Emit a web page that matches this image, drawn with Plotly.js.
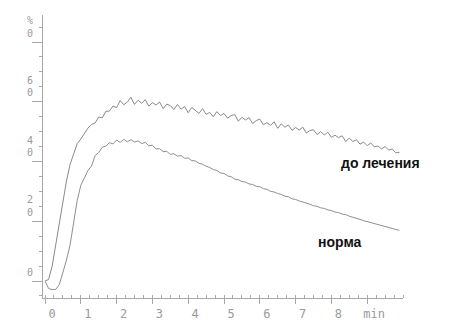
<!DOCTYPE html>
<html>
<head>
<meta charset="utf-8">
<script src="https://cdn.plot.ly/plotly-3.0.1.min.js"></script>
<style>html,body{margin:0;padding:0;background:#fff}#chart{width:475px;height:324px}</style>
</head>
<body>
<div id="chart"></div>
<script>
// time, min (step 0.1)
const timeMin = [0.0,0.1,0.2,0.3,0.4,0.5,0.6,0.7,0.8,0.9,1.0,1.1,1.2,1.3,1.4,1.5,1.6,1.7,1.8,1.9,2.0,2.1,2.2,2.3,2.4,2.5,2.6,2.7,2.8,2.9,3.0,3.1,3.2,3.3,3.4,3.5,3.6,3.7,3.8,3.9,4.0,4.1,4.2,4.3,4.4,4.5,4.6,4.7,4.8,4.9,5.0,5.1,5.2,5.3,5.4,5.5,5.6,5.7,5.8,5.9,6.0,6.1,6.2,6.3,6.4,6.5,6.6,6.7,6.8,6.9,7.0,7.1,7.2,7.3,7.4,7.5,7.6,7.7,7.8,7.9,8.0,8.1,8.2,8.3,8.4,8.5,8.6,8.7,8.8,8.9,9.0,9.1,9.2,9.3,9.4,9.5,9.6,9.7,9.8,9.9];
// "до лечения" (%)
const beforeTreatment = [0,0.5,5,12,20,27,33.5,39,42.5,46,47.5,49.6,51.2,52.4,52.9,54.9,54.6,56.8,56.9,58.6,58.0,60.4,59.0,59.9,61.5,59.1,60.5,59.5,60.7,58.5,59.7,58.9,59.9,57.7,59.2,58.7,57.4,59.1,57.5,58.4,56.3,58.1,57.1,56.1,57.7,55.8,56.4,55.0,56.7,55.4,56.1,54.5,55.4,55.7,53.5,54.8,53.9,54.7,52.7,53.7,54.2,52.3,53.0,52.1,53.3,51.1,52.6,51.5,52.2,50.4,51.4,50.5,51.5,49.5,50.4,50.6,49.0,50.0,48.9,49.8,48.1,48.8,48.0,48.6,46.7,47.8,46.7,47.3,45.8,46.5,45.3,46.2,44.9,45.2,44.2,45.0,43.8,44.2,42.9,43.1];
// "норма" (%)
const norm = [0,-2.5,-2.9,-2.8,-1.2,2.5,7,12,20,27,32,34.5,37,38.5,42,43,44.8,45.2,46.3,45.9,47.2,46.4,47.4,46.6,47.3,46.5,46.9,46.0,46.4,45.3,45.4,44.2,44.3,43.3,43.4,42.4,42.6,41.8,42.0,41.1,41.2,40.3,40.2,39.4,39.1,38.4,38.0,37.3,37.0,36.2,36.0,35.2,34.9,34.1,33.9,33.3,33.1,32.5,32.3,31.7,31.6,30.9,30.7,30.0,29.8,29.3,29.0,28.4,28.2,27.5,27.3,26.8,26.5,26.0,25.7,25.2,25.0,24.5,24.3,23.8,23.6,23.1,22.9,22.4,22.2,21.7,21.4,20.9,20.6,20.2,19.9,19.5,19.2,18.9,18.5,18.2,17.9,17.6,17.2,17.0];

const seriesNames = ['до лечения', 'норма'];
const seriesLabelX = [9.36, 8.24];
const seriesLabelY = [39.5, 13.0];

const xTickVals = [0,1,2,3,4,5,6,7,8,9];
const xTickText = ['0','1','2','3','4','5','6','7','8','min'];
const yTickVals = [0,20,40,60,80];
const yTickText = ['0','2<br>0','4<br>0','6<br>0','%<br>0'];

const tickFont = {family: 'DejaVu Sans Mono', size: 12, color: '#9a9a9a'};
const yLabelFont = {family: 'DejaVu Sans Mono', size: 10, color: '#9a9a9a'};
const axisColor = '#a8a8a8';

const traces = [
  {x: timeMin, y: beforeTreatment, mode: 'lines', line: {color: '#8a8a8a', width: 1}, hoverinfo: 'skip'},
  {x: timeMin, y: norm, mode: 'lines', line: {color: '#8f8f8f', width: 1}, hoverinfo: 'skip'}
];

const annotations = [];
yTickVals.forEach((v, i) => {
  const lines = yTickText[i].split('<br>');
  lines.forEach((t, j) => {
    const k = lines.length - 1 - j;
    annotations.push({
      xref: 'paper', yref: 'y', x: 0, y: v, text: t, showarrow: false,
      xanchor: 'center', yanchor: 'middle', xshift: -13, yshift: 9 + 12.5 * k,
      font: yLabelFont
    });
  });
});
seriesNames.forEach((n, i) => {
  annotations.push({
    xref: 'x', yref: 'y', x: seriesLabelX[i], y: seriesLabelY[i], text: '<b>' + n + '</b>',
    showarrow: false, xanchor: 'center', yanchor: 'middle',
    font: {family: 'Liberation Sans', size: 14, color: '#111'}
  });
});

const layout = {
  width: 475, height: 324,
  margin: {l: 43, r: 72, t: 15, b: 26},
  paper_bgcolor: '#fff', plot_bgcolor: '#fff',
  showlegend: false,
  xaxis: {
    range: [-0.056, 10.0], showgrid: false, zeroline: false,
    showline: true, linecolor: axisColor, linewidth: 1,
    tickmode: 'array', tickvals: xTickVals, ticktext: xTickText,
    ticks: 'outside', ticklen: 5, tickcolor: axisColor, tickwidth: 1,
    ticklabelshift: 7, ticklabelstandoff: 0,
    tickfont: tickFont,
    minor: {dtick: 0.25, tick0: 0, ticks: 'inside', ticklen: 3, tickcolor: axisColor, showgrid: false}
  },
  yaxis: {
    range: [-5.69, 89.04], showgrid: false, zeroline: false,
    showline: true, linecolor: axisColor, linewidth: 1,
    tickmode: 'array', tickvals: yTickVals,
    ticks: 'outside', ticklen: 10, tickcolor: axisColor, tickwidth: 1,
    showticklabels: false,
    minor: {dtick: 5, tick0: 0, ticks: 'outside', ticklen: 3, tickcolor: axisColor, showgrid: false}
  },
  annotations: annotations
};

Plotly.newPlot('chart', traces, layout, {staticPlot: true, displayModeBar: false});
</script>
</body>
</html>
